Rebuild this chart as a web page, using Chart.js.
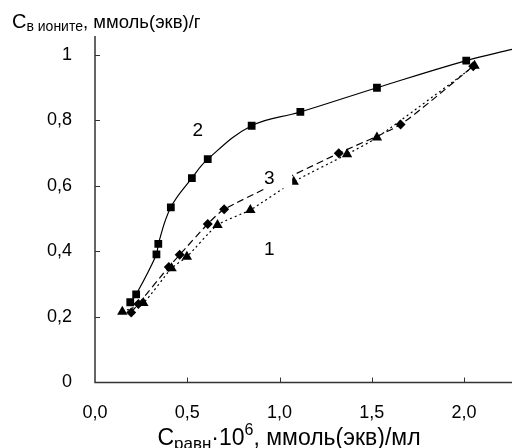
<!DOCTYPE html>
<html>
<head>
<meta charset="utf-8">
<script src="https://cdn.jsdelivr.net/npm/chart.js@4"></script>
<style>
html,body{margin:0;padding:0;background:#fff;}
#wrap{width:518px;height:448px;position:relative;}
</style>
</head>
<body>
<div id="wrap"><canvas id="c" width="518" height="448"></canvas></div>
<script>
// ---- data ----
const xTicks = [0, 0.5, 1.0, 1.5, 2.0];
const yTicks = [0, 0.2, 0.4, 0.6, 0.8, 1.0];

// curve 1 (triangles, dotted)
const s1X = [0.148, 0.262, 0.415, 0.498, 0.664, 0.842, 1.077, 1.366, 1.528, 2.057];
const s1Y = [0.216, 0.243, 0.349, 0.384, 0.481, 0.527, 0.613, 0.697, 0.748, 0.967];

// curve 2 (squares, solid) ; last value is the end of the drawn curve (no marker)
const s2X = [0.191, 0.223, 0.333, 0.343, 0.411, 0.525, 0.611, 0.849, 1.113, 1.528, 2.012, 2.26];
const s2Y = [0.245, 0.269, 0.391, 0.423, 0.535, 0.624, 0.682, 0.784, 0.826, 0.900, 0.983, 1.017];

// curve 3 (diamonds, dashed)
const s3X = [0.196, 0.235, 0.400, 0.459, 0.611, 0.700, 1.321, 1.656, 2.050];
const s3Y = [0.214, 0.240, 0.353, 0.390, 0.484, 0.529, 0.700, 0.788, 0.966];

const curveLabels = ['1', '2', '3'];
const curveLabelX = [0.944, 0.557, 0.944];
const curveLabelY = [0.405, 0.770, 0.623];

const FONT = '"Liberation Sans", Arial, sans-serif';

function pts(xs, ys){ return xs.map((x,i)=>({x:x, y:ys[i]})); }

const decor = {
  id: 'decor',
  afterDatasetsDraw(chart){
    const ctx = chart.ctx;
    const xs = chart.scales.x, ys = chart.scales.y;
    ctx.save();
    ctx.font = '19px ' + FONT;
    ctx.fillStyle = '#000';
    ctx.textAlign = 'center';
    ctx.textBaseline = 'middle';
    curveLabels.forEach((t,i)=>{
      const px = xs.getPixelForValue(curveLabelX[i]);
      const py = ys.getPixelForValue(curveLabelY[i]);
      if (t === '3') {
        ctx.fillStyle = '#fff';
        ctx.fillRect(px - 13, py - 13, 36, 23);
        ctx.fillStyle = '#000';
      }
      ctx.fillText(t, px, py);
    });
    ctx.restore();
  },
  afterDraw(chart){
    const ctx = chart.ctx;
    const xs = chart.scales.x, ys = chart.scales.y;
    const a = chart.chartArea;
    ctx.save();
    // axis lines
    ctx.strokeStyle = '#333';
    ctx.lineWidth = 1.5;
    ctx.beginPath();
    ctx.moveTo(a.left, a.top);
    ctx.lineTo(a.left, a.bottom);
    ctx.lineTo(a.right, a.bottom);
    ctx.stroke();
    // inward tick marks
    ctx.lineWidth = 1;
    ctx.beginPath();
    xs.ticks.forEach(t=>{
      if (t.value === 0) return;
      const px = Math.round(xs.getPixelForValue(t.value)) + 0.5;
      ctx.moveTo(px, a.bottom);
      ctx.lineTo(px, a.bottom - 5);
    });
    ys.ticks.forEach(t=>{
      if (t.value === 0) return;
      const py = Math.round(ys.getPixelForValue(t.value)) + 0.5;
      ctx.moveTo(a.left, py);
      ctx.lineTo(a.left + 5, py);
    });
    ctx.stroke();

    // axis titles with sub/superscripts
    ctx.fillStyle = '#000';
    ctx.textAlign = 'left';
    ctx.textBaseline = 'alphabetic';
    function runs(parts, x, y){
      let cx = x;
      parts.forEach(p=>{
        ctx.font = p.size + 'px ' + FONT;
        ctx.fillText(p.t, cx, y + (p.dy||0));
        cx += ctx.measureText(p.t).width;
      });
      return cx - x;
    }
    function measure(parts){
      let w = 0;
      parts.forEach(p=>{ ctx.font = p.size + 'px ' + FONT; w += ctx.measureText(p.t).width; });
      return w;
    }
    const yTitle = [
      {t:'C', size:20},
      {t:'в ионите', size:14, dy:3},
      {t:', ммоль(экв)/г', size:18.5}
    ];
    runs(yTitle, 12, 28);
    const xTitle = [
      {t:'C', size:23},
      {t:'равн', size:17, dy:4},
      {t:'·10', size:23},
      {t:'6', size:16, dy:-10},
      {t:', ммоль(экв)/мл', size:23}
    ];
    const w = measure(xTitle);
    runs(xTitle, 289 - w/2, 445);
    ctx.restore();
  }
};

const common = {
  borderColor: '#000',
  backgroundColor: '#000',
  pointBackgroundColor: '#000',
  pointBorderColor: '#000',
  borderWidth: 1.2,
  pointRadius: 5,
  pointBorderWidth: 0,
  tension: 0.2,
  showLine: true,
  fill: false
};

new Chart(document.getElementById('c'), {
  type: 'scatter',
  data: {
    datasets: [
      Object.assign({}, common, {
        label: '1',
        data: pts(s1X, s1Y),
        pointStyle: 'triangle',
        pointRadius: 6,
        borderDash: [2, 3]
      }),
      Object.assign({}, common, {
        label: '2',
        data: pts(s2X, s2Y),
        pointStyle: 'rect',
        tension: 0.4,
        pointRadius: ctx => ctx.dataIndex === s2X.length - 1 ? 0 : 5.5
      }),
      Object.assign({}, common, {
        label: '3',
        data: pts(s3X, s3Y),
        pointStyle: 'rectRot',
        pointRadius: 5,
        borderDash: [7, 4]
      })
    ]
  },
  options: {
    responsive: false,
    animation: false,
    devicePixelRatio: 1,
    layout: { padding: { top: 36, right: 0, left: 0, bottom: 0 } },
    plugins: { legend: { display: false }, tooltip: { enabled: false } },
    scales: {
      x: {
        type: 'linear',
        min: 0, max: 2.26,
        afterBuildTicks: s => { s.ticks = xTicks.map(v => ({ value: v })); },
        afterFit: s => { s.height = 65.5; },
        grid: { display: false },
        border: { display: false },
        ticks: {
          padding: 12,
          color: '#000',
          font: { size: 18, family: FONT },
          maxRotation: 0,
          callback: v => v.toFixed(1).replace('.', ',')
        }
      },
      y: {
        type: 'linear',
        min: 0, max: 1.058,
        afterBuildTicks: s => { s.ticks = yTicks.map(v => ({ value: v })); },
        afterFit: s => { s.width = 95; },
        grid: { display: false },
        border: { display: false },
        ticks: {
          padding: 15,
          color: '#000',
          font: { size: 18, family: FONT },
          callback: v => (v === 0 || v === 1) ? String(v) : v.toFixed(1).replace('.', ',')
        }
      }
    }
  },
  plugins: [decor]
});
</script>
</body>
</html>
